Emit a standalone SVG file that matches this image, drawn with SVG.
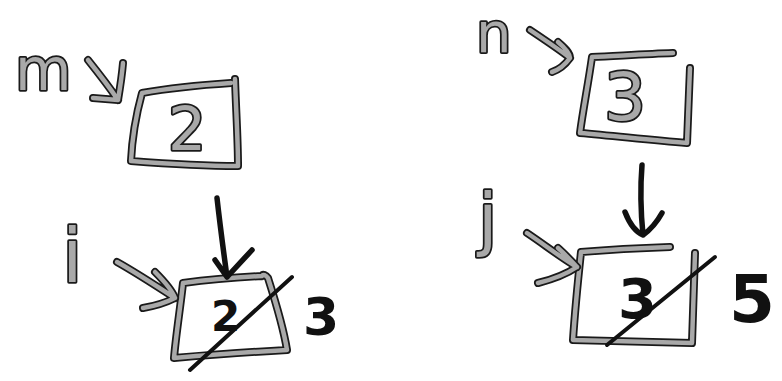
<svg xmlns="http://www.w3.org/2000/svg" xmlns:xlink="http://www.w3.org/1999/xlink" width="782" height="381" viewBox="0 0 782 381">
<style>
.o{fill:none;stroke:#1a1a1a;stroke-width:8;stroke-linecap:round;stroke-linejoin:round}
.g{fill:none;stroke:#a9a9a9;stroke-width:4.5;stroke-linecap:round;stroke-linejoin:round}
.k{fill:none;stroke:#111;stroke-width:5.5;stroke-linecap:round;stroke-linejoin:round}
.s{fill:none;stroke:#111;stroke-width:4;stroke-linecap:round}
.gt{font-family:"DejaVu Sans","Liberation Sans",sans-serif;fill:#a9a9a9;stroke:#1a1a1a;stroke-width:3.5;paint-order:stroke;stroke-linejoin:round}
.kt{font-family:"DejaVu Sans","Liberation Sans",sans-serif;font-weight:bold;fill:#111}
</style>
<defs>
<path id="bm" d="M231,83 C200,85 170,88 142,93 C136,115 132,140 131,161 C170,164 205,166 238,166 C238,140 236,110 235,79"/>
<path id="bi" d="M262,276 C240,277 205,280 183,283 C180,310 176,335 174,358 C210,355 250,352 287,350 C283,325 275,300 268,278 C266,275 263,274 262,276"/>
<path id="bn" d="M673,53 C645,54 615,56 592,57 C588,85 583,110 580,133 C615,136 650,140 687,143 C688,115 689,90 690,68"/>
<path id="bj" d="M670,247 C640,248 605,250 581,252 C578,280 575,310 573,340 C610,341 650,342 692,343 C693,313 694,283 695,253"/>
<path id="am" d="M88,60 C100,75 110,88 118,100 M93,98 L118,100 C120,88 122,75 123,63"/>
<path id="ai" d="M117,262 C135,272 155,285 175,298 M155,272 C165,282 172,290 175,298 C165,303 155,306 143,308"/>
<path id="an" d="M530,30 C545,40 560,50 570,58 M558,42 C565,48 570,53 570,58 C565,65 558,70 552,72"/>
<path id="aj" d="M527,233 C545,245 560,257 577,267 M558,248 C566,255 572,262 577,267 C565,275 550,280 538,283"/>
</defs>
<g id="node-m">
<text class="gt" x="15" y="90" font-size="58">m</text>
<use href="#bm" class="o"/><use href="#bm" class="g"/>
<text class="gt" x="168" y="150" font-size="60">2</text>
</g>
<g id="node-i">
<text class="gt" x="62" y="282" font-size="74">i</text>
<use href="#bi" class="o"/><use href="#bi" class="g"/>
<text class="kt" x="211" y="331" font-size="42">2</text>
<line class="s" x1="292" y1="277" x2="190" y2="370"/>
<text class="kt" x="303" y="335" font-size="52">3</text>
</g>
<g id="node-n">
<text class="gt" x="476" y="52" font-size="56">n</text>
<use href="#bn" class="o"/><use href="#bn" class="g"/>
<text class="gt" x="604" y="120" font-size="66">3</text>
</g>
<g id="node-j">
<text class="gt" x="478" y="243" font-size="70">j</text>
<use href="#bj" class="o"/><use href="#bj" class="g"/>
<text class="kt" x="618" y="318" font-size="56">3</text>
<line class="s" x1="715" y1="257" x2="607" y2="345"/>
<text class="kt" x="729" y="322" font-size="66">5</text>
</g>
<g id="connectors">
<use href="#am" class="o"/><use href="#am" class="g"/>
<use href="#ai" class="o"/><use href="#ai" class="g"/>
<use href="#an" class="o"/><use href="#an" class="g"/>
<use href="#aj" class="o"/><use href="#aj" class="g"/>
<path class="k" d="M217,198 C220,225 224,255 227,277 M215,260 L227,277 L252,250"/>
<path class="k" d="M642,165 C640,190 641,215 643,235 M625,212 C630,225 636,232 643,235 C650,230 657,222 662,213"/>
</g>
</svg>
